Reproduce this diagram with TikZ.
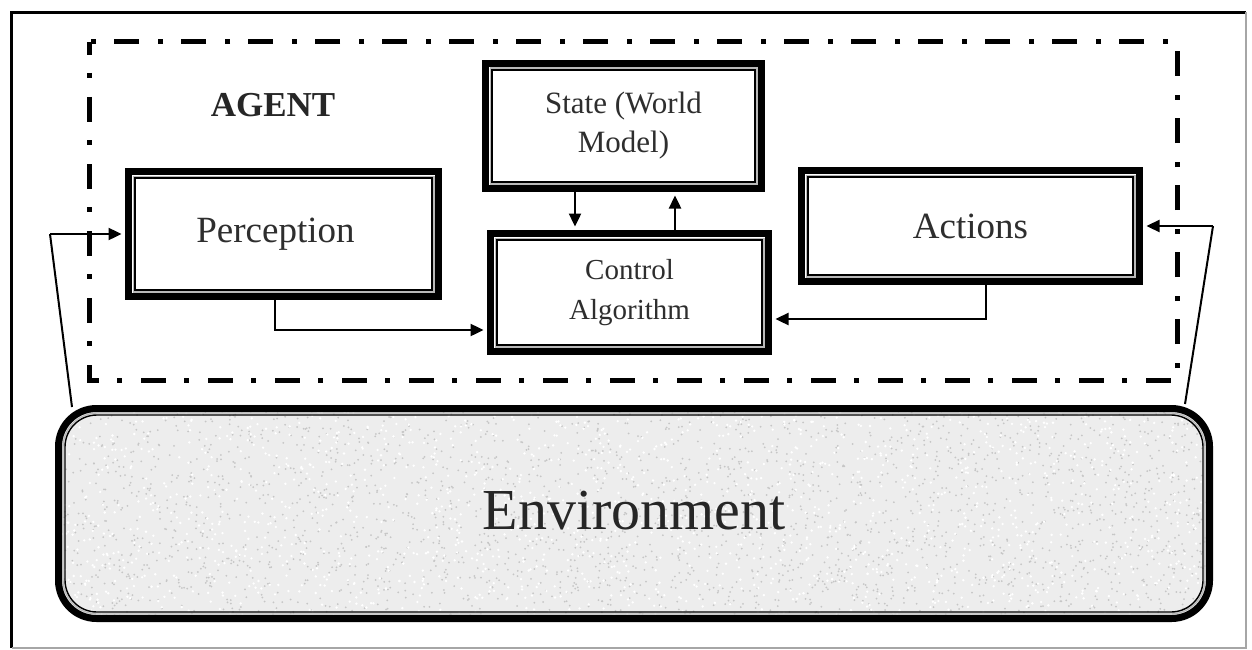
\documentclass[tikz,border=0pt]{standalone}
\usepackage{fontspec}
\setmainfont{Liberation Serif}
\usetikzlibrary{arrows.meta,calc}
\begin{document}
\begin{tikzpicture}[x=1pt,y=-1pt,
  framebox/.style={draw=black, line width=7pt, fill=white, inner sep=0pt,
    align=center, text=black!82,
    path picture={
      \draw[gray!55, line width=1.2pt]
        ([shift={(4.6pt,-4.6pt)}]path picture bounding box.north west) rectangle
        ([shift={(-4.6pt,4.6pt)}]path picture bounding box.south east);
      \draw[black, line width=1.4pt]
        ([shift={(6.5pt,-6.5pt)}]path picture bounding box.north west) rectangle
        ([shift={(-6.5pt,6.5pt)}]path picture bounding box.south east);
    }},
  envbox/.style={draw=black, line width=7pt, fill=gray!14, rounded corners=38pt,
    inner sep=0pt, text=black!85,
    path picture={
      \pgfmathsetseed{11}
      \foreach \i in {1,...,2600}{
        \fill[gray!45] ($(path picture bounding box.center)+({rand*575},{rand*105})$) circle (1.0pt);
      }
      \foreach \i in {1,...,1600}{
        \fill[white] ($(path picture bounding box.center)+({rand*575},{rand*105})$) circle (1.3pt);
      }
      \draw[gray!55, line width=1.2pt, rounded corners=34pt]
        ([shift={(4.6pt,-4.6pt)}]path picture bounding box.north west) rectangle
        ([shift={(-4.6pt,4.6pt)}]path picture bounding box.south east);
      \draw[black, line width=1.4pt, rounded corners=32pt]
        ([shift={(6.5pt,-6.5pt)}]path picture bounding box.north west) rectangle
        ([shift={(-6.5pt,6.5pt)}]path picture bounding box.south east);
    }},
  conn/.style={draw=black, line width=2.4pt, -{Triangle[length=13pt,width=12pt]}, shorten >=3.5pt},
  plainline/.style={draw=black, line width=2pt},
  agentline/.style={draw=black, line width=5pt, dash pattern=on 25pt off 18pt on 5pt off 19pt, dash phase=12pt}
]
\useasboundingbox (0,0) rectangle (1252,650);

% outer frame
\draw[black, line width=3.5pt] (11.5,648) -- (11.5,12.5) -- (1246,12.5);
\draw[gray!70, line width=1.5pt] (1246,12.5) -- (1246,648) -- (11.5,648);

% agent boundary
\draw[agentline] (89,42) rectangle (1177,380);
\node[font=\bfseries\fontsize{35}{40}\selectfont, text=black!85] (agent) at (273,105) {AGENT};

% components
\node[framebox, minimum width=310pt, minimum height=125pt,
      font=\fontsize{37}{44}\selectfont] (per) at (283.5,234) {Perception\hspace*{16pt}};
\node[framebox, minimum width=276pt, minimum height=125pt,
      font=\fontsize{31}{39}\selectfont] (st) at (623.5,126) {State (World\\Model)};
\node[framebox, minimum width=278pt, minimum height=118pt,
      font=\fontsize{29}{40}\selectfont] (ctl) at (629.5,292.5) {Control\\Algorithm};
\node[framebox, minimum width=338pt, minimum height=111pt,
      font=\fontsize{37}{44}\selectfont] (act) at (970.5,226) {Actions};

% environment
\node[envbox, minimum width=1151pt, minimum height=210pt,
      font=\fontsize{58}{66}\selectfont] (env) at (634,513.5) {\raisebox{7pt}{Environment}};

% connectors
\coordinate (eL) at (72,407);
\coordinate (bL) at (50,234);
\coordinate (eR) at (1185,404);
\coordinate (bR) at (1213,226);

\draw[plainline] (eL) -- (bL);
\draw[conn] (bL) -- (per.west);
\draw[plainline] (eR) -- (bR);
\draw[conn] (bR) -- (act.east);

\draw[conn] ([xshift=-8.5pt]per.south) |- ([yshift=-37.5pt]ctl.west);
\draw[conn] ([xshift=15.5pt]act.south) |- ([yshift=-26.5pt]ctl.east);
\draw[conn] ([xshift=-48.5pt]st.south) -- ([xshift=-48.5pt]st.south |- ctl.north);
\draw[conn] ([xshift=45.5pt]ctl.north) -- ([xshift=45.5pt]ctl.north |- st.south);
\end{tikzpicture}
\end{document}
